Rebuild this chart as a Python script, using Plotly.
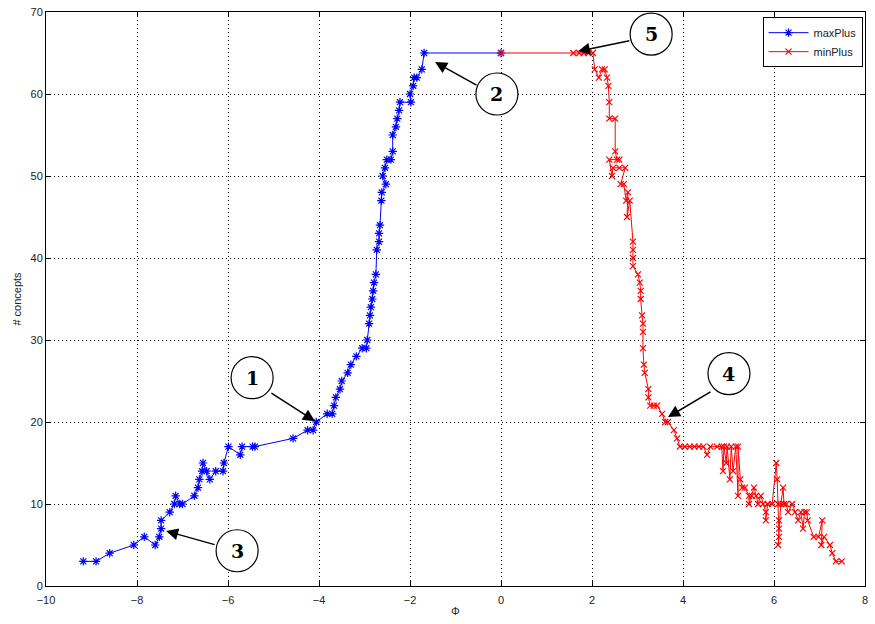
import plotly.graph_objects as go

# maxPlus series
max_phi = [-9.18, -8.9, -8.6, -8.07, -7.84, -7.6, -7.51, -7.47, -7.47, -7.28, -7.18, -7.15, -7.06, -7.0,
           -6.74, -6.66, -6.63, -6.57, -6.55, -6.47, -6.4, -6.27, -6.11, -6.09, -5.99, -5.73, -5.69, -5.46,
           -5.41, -4.57, -4.25, -4.13, -4.06, -3.82, -3.71, -3.67, -3.63, -3.54, -3.5, -3.37, -3.3, -3.18,
           -3.05, -2.96, -2.94, -2.9, -2.88, -2.86, -2.83, -2.81, -2.79, -2.75, -2.73, -2.68, -2.68, -2.66,
           -2.63, -2.62, -2.53, -2.6, -2.55, -2.51, -2.42, -2.38, -2.38, -2.31, -2.28, -2.24, -2.22, -1.98,
           -2.0, -1.93, -1.91, -1.85, -1.74, -1.69, 0.0]
max_cnt = [3, 3, 4, 5, 6, 5, 6, 7, 8, 9, 10, 11, 10, 10,
           11, 12, 13, 14, 15, 14, 13, 14, 14, 15, 17, 16, 17, 17,
           17, 18, 19, 19, 20, 21, 21, 22, 23, 24, 25, 26, 27, 28,
           29, 29, 30, 32, 33, 34, 35, 36, 37, 38, 41, 42, 43, 44,
           47, 48, 49, 50, 51, 52, 52, 53, 55, 56, 57, 58, 59, 59,
           60, 61, 62, 62, 63, 65, 65]

# minPlus series
min_phi = [0.0, 1.59, 1.72, 1.82, 1.92, 2.02, 2.06, 2.15, 2.22, 2.28, 2.33, 2.36, 2.38, 2.38, 2.51, 2.51,
           2.55, 2.6, 2.38, 2.44, 2.46, 2.6, 2.73, 2.63, 2.7, 2.75, 2.79, 2.77, 2.83, 2.9, 2.9, 2.9, 2.9,
           3.01, 3.05, 3.07, 3.07, 3.1, 3.12, 3.12, 3.12, 3.14, 3.16, 3.24, 3.24, 3.28, 3.36, 3.43, 3.54,
           3.61, 3.67, 3.8, 3.87, 3.93, 4.04, 4.15, 4.25, 4.35, 4.45, 4.53, 4.6, 4.75, 4.85, 4.88, 4.9,
           4.95, 4.97, 5.03, 5.06, 5.1, 5.16, 5.21, 5.21, 5.26, 5.3, 5.36, 5.45, 5.45, 5.51, 5.56, 5.61,
           5.65, 5.71, 5.76, 5.82, 5.82, 5.86, 5.96, 6.05, 6.07, 6.09, 6.11, 6.11, 6.11, 6.09, 6.15, 6.2,
           6.22, 6.27, 6.31, 6.4, 6.46, 6.53, 6.59, 6.64, 6.67, 6.72, 6.74, 6.87, 6.98, 7.06, 7.04, 7.1,
           7.23, 7.28, 7.36, 7.49]
min_cnt = [65, 65, 65, 65, 65, 65, 63, 62, 63, 63, 62, 61, 59, 57, 57, 53,
           52, 52, 52, 50, 51, 51, 51, 49, 49, 47, 48, 45, 47, 42, 41, 40, 39,
           38, 37, 36, 35, 33, 32, 31, 29, 27, 26, 24, 23, 22, 22, 22, 21,
           20, 20, 19, 18, 17, 17, 17, 17, 17, 17, 16, 17, 17, 17, 14, 17,
           15, 17, 13, 17, 14, 17, 11, 17, 13, 12, 12, 11, 10, 11, 12, 11,
           10, 11, 10, 9, 8, 10, 10, 15, 13, 10, 8, 7, 6, 5, 10, 12,
           10, 10, 9, 10, 9, 8, 9, 7, 9, 9, 8, 6, 6, 8, 5, 6,
           5, 4, 3, 3]

x_ticks = [-10, -8, -6, -4, -2, 0, 2, 4, 6, 8]
y_ticks = [0, 10, 20, 30, 40, 50, 60, 70]

# numbered callouts: label, circle centre (data), arrow tip (data), tail offset (px)
callout_labels = ["1", "2", "3", "4", "5"]
circle_x = [-5.47, -0.09, -5.8, 5.01, 3.3]
circle_y = [25.4, 60.0, 4.3, 25.9, 67.3]
tip_x = [-4.09, -1.45, -7.36, 3.67, 1.69]
tip_y = [20.1, 63.9, 6.7, 20.6, 65.2]
tail_dx = [-45, 43, 50, 44, 53]
tail_dy = [-29, 24, 14, -26, -11]

fig = go.Figure()
fig.add_trace(go.Scatter(
    x=max_phi, y=max_cnt, mode="lines+markers", name="maxPlus",
    line=dict(color="rgb(0,0,255)", width=1),
    marker=dict(symbol="asterisk-open", size=7, color="rgb(0,0,255)",
                line=dict(color="rgb(0,0,255)", width=1.2)),
))
fig.add_trace(go.Scatter(
    x=min_phi, y=min_cnt, mode="lines+markers", name="minPlus",
    line=dict(color="rgb(255,0,0)", width=1),
    marker=dict(symbol="x-thin-open", size=6, color="rgb(255,0,0)",
                line=dict(color="rgb(255,0,0)", width=1.2)),
))

shapes = []
annotations = []
for lab, cx, cy, tx, ty, dx, dy in zip(callout_labels, circle_x, circle_y, tip_x, tip_y, tail_dx, tail_dy):
    annotations.append(dict(
        x=tx, y=ty, xref="x", yref="y", text="", showarrow=True,
        ax=dx, ay=dy, arrowhead=2, arrowsize=1.6, arrowwidth=1.5, arrowcolor="black",
    ))
    shapes.append(dict(
        type="circle", xref="x", yref="y", xsizemode="pixel", ysizemode="pixel",
        xanchor=cx, yanchor=cy, x0=-21, x1=21, y0=-21, y1=21,
        line=dict(color="black", width=1.2), fillcolor="white", layer="above",
    ))
    annotations.append(dict(
        x=cx, y=cy, xref="x", yref="y", text="<b>%s</b>" % lab, showarrow=False,
        font=dict(family="DejaVu Serif", size=19, color="black"),
    ))

axis_common = dict(
    showline=True, linecolor="black", linewidth=1, mirror="allticks",
    ticks="inside", ticklen=5, tickcolor="black",
    showgrid=True, gridcolor="black", griddash="1px,3px", gridwidth=1,
    zeroline=False, automargin=False, ticklabeloverflow="allow",
    tickfont=dict(family="Liberation Sans", size=11, color="#222"),
)

fig.update_layout(
    width=875, height=624,
    margin=dict(l=46, r=10, t=12, b=38),
    paper_bgcolor="white", plot_bgcolor="white",
    xaxis=dict(range=[-10, 8], tickvals=x_ticks, ticklabelstandoff=4,
               title=dict(text="Φ", font=dict(family="Liberation Sans", size=11, color="#222"), standoff=2),
               **axis_common),
    yaxis=dict(range=[0, 70], tickvals=y_ticks,
               title=dict(text="# concepts", font=dict(family="Liberation Sans", size=11, color="#222"), standoff=6),
               **axis_common),
    legend=dict(x=0.997, y=0.991, xanchor="right", yanchor="top",
                bgcolor="white", bordercolor="black", borderwidth=1,
                font=dict(family="Liberation Sans", size=11, color="#222"),
                itemwidth=40, tracegroupgap=0),
    shapes=shapes, annotations=annotations,
    showlegend=True,
)

fig.write_html("out.html", config={"displayModeBar": False},
               post_script="document.body.style.margin='0';")
